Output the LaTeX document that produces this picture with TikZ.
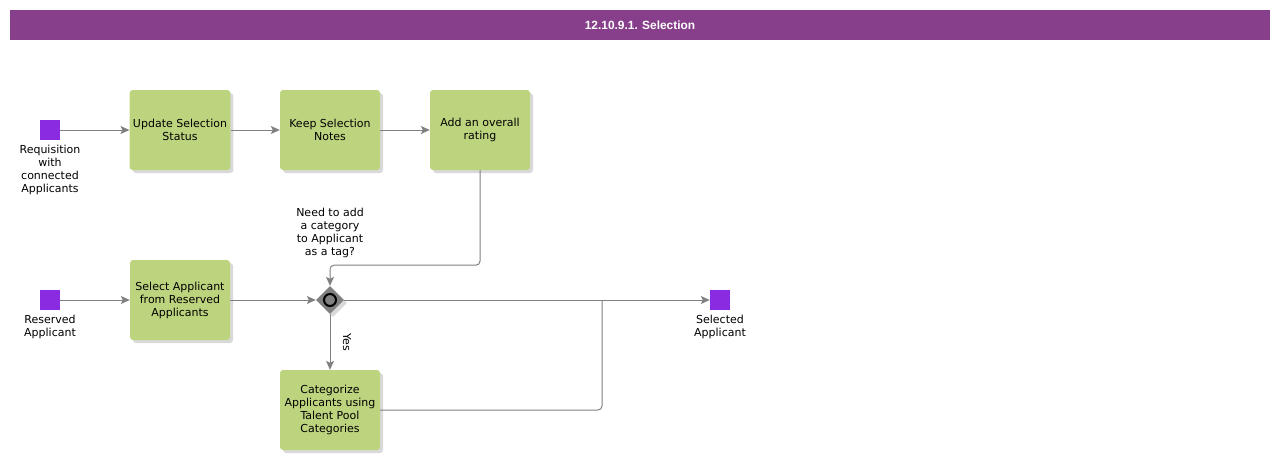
\documentclass[tikz,border=0pt]{standalone}
\usepackage{fontspec}
\setmainfont{DejaVu Sans}
\newfontfamily\headfont{Liberation Sans}
\usetikzlibrary{arrows.meta,shapes.geometric,shadows}
\definecolor{headpurple}{HTML}{873F8B}
\definecolor{evviolet}{HTML}{8A2BE2}
\definecolor{taskgreen}{HTML}{BDD47E}
\definecolor{flowgray}{HTML}{808080}

\begin{document}
\begin{tikzpicture}[x=1pt, y=-1pt,
  task/.style={fill=taskgreen, rounded corners=3pt, minimum width=100pt,
    minimum height=80pt, align=center, font=\fontsize{11}{13}\selectfont,
    drop shadow={shadow xshift=3pt, shadow yshift=-3pt, fill=black, opacity=0.15}},
  ev/.style={fill=evviolet, minimum size=20pt, inner sep=0pt},
  lbl/.style={align=center, inner sep=0pt, font=\fontsize{11}{13}\selectfont},
  gate/.style={diamond, fill=flowgray, minimum size=28pt, inner sep=0pt,
    drop shadow={shadow xshift=3pt, shadow yshift=-3pt, fill=black, opacity=0.15}},
  flow/.style={draw=flowgray, line width=1pt, rounded corners=4pt,
    -{Stealth[length=9pt, width=8pt, inset=2pt]}}]
  \useasboundingbox (0,0) rectangle (1280,460);

  % header
  \node[fill=headpurple, minimum width=1260pt, minimum height=30pt, inner sep=0pt,
    text=white, font=\headfont\bfseries\fontsize{11.9}{14}\selectfont] (title) at (640,25)
    {12.10.9.1. Selection};

  % events
  \node[ev] (req) at (50,130) {};
  \node[lbl] (reqtxt) at (50,170) {Requisition\\with\\connected\\Applicants};
  \node[ev] (res) at (50,300) {};
  \node[lbl] (restxt) at (50,327) {Reserved\\Applicant};
  \node[ev] (sel) at (720,300) {};
  \node[lbl] (seltxt) at (720,327) {Selected\\Applicant};

  % tasks
  \node[task] (update) at (180,130) {Update Selection\\Status};
  \node[task] (notes)  at (330,130) {Keep Selection\\Notes};
  \node[task] (rating) at (480,130) {Add an overall\\rating};
  \node[task] (pick)   at (180,300) {Select Applicant\\from Reserved\\Applicants};
  \node[task] (categ)  at (330,410) {Categorize\\Applicants using\\Talent Pool\\Categories};

  % gateway
  \node[gate] (gw) at (330,300) {};
  \node[circle, draw=black, line width=2pt, minimum size=12pt, inner sep=0pt] (gwmark) at (gw) {};
  \node[lbl] (ask) at (330,233) {Need to add\\a category\\to Applicant\\as a tag?};
  \coordinate (join) at (602,300);

  % flows
  \draw[flow] (req) -- (update);
  \draw[flow] (update) -- (notes);
  \draw[flow] (notes) -- (rating);
  \draw[flow] (rating.south) -- ++(0,95) -| (gw.north);
  \draw[flow] (res) -- (pick);
  \draw[flow] (pick) -- (gw.west);
  \draw[flow] (gw.east) -- (sel);
  \draw[flow] (gw.south) -- node[midway, anchor=south, rotate=-90, inner sep=0pt, outer sep=13pt,
    font=\fontsize{11}{13}\selectfont] {Yes} (categ);
  \draw[flow, -] (categ.east) -| (join);
\end{tikzpicture}
\end{document}
